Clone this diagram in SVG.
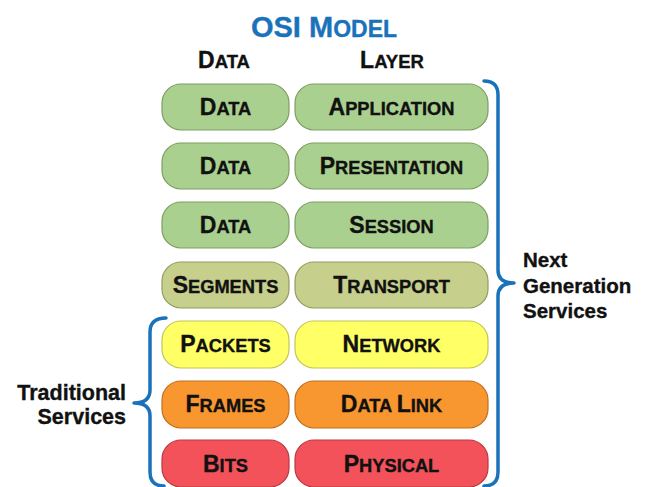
<svg xmlns="http://www.w3.org/2000/svg" width="649" height="487" viewBox="0 0 649 487">
<style>
text{font-family:"Liberation Sans",Arial,sans-serif;font-weight:bold;fill:#111;stroke:#111;stroke-width:0.35}
.box text{text-anchor:middle;font-size:18.3px}
.box .c{font-size:23px}
.g rect{fill:#a9d08e;stroke:#7e9e62}
.o rect{fill:#c6cf8b;stroke:#949c62}
.y rect{fill:#ffff66;stroke:#c4c45a}
.f rect{fill:#f8962f;stroke:#c07020}
.r rect{fill:#f3525a;stroke:#b83a40}
rect{stroke-width:1.2}
.brace{fill:none;stroke:#1a72bb;stroke-width:3.5;stroke-linecap:round;stroke-linejoin:round}
.lbl{font-size:20.5px}
.title{fill:#1a72bb;stroke:#1a72bb}
</style>
<rect width="649" height="487" fill="#fff"/>
<text class="title" x="324" y="37" text-anchor="middle" style="font-size:23px"><tspan style="font-size:29px">OSI M</tspan>ODEL</text>
<text x="224" y="68" text-anchor="middle" style="font-size:18.5px"><tspan style="font-size:23px">D</tspan>ATA</text>
<text x="392" y="68" text-anchor="middle" style="font-size:18.5px"><tspan style="font-size:23px">L</tspan>AYER</text>

<g id="n-data1" class="box g"><rect x="162" y="84" width="127" height="46" rx="19"/><text x="225.5" y="115"><tspan class="c">D</tspan>ATA</text></g>
<g id="n-application" class="box g"><rect x="295" y="84" width="193" height="46" rx="19"/><text x="391.5" y="115"><tspan class="c">A</tspan>PPLICATION</text></g>
<g id="n-data2" class="box g"><rect x="162" y="143" width="127" height="46" rx="19"/><text x="225.5" y="174"><tspan class="c">D</tspan>ATA</text></g>
<g id="n-presentation" class="box g"><rect x="295" y="143" width="193" height="46" rx="19"/><text x="391.5" y="174"><tspan class="c">P</tspan>RESENTATION</text></g>
<g id="n-data3" class="box g"><rect x="162" y="202" width="127" height="46" rx="19"/><text x="225.5" y="233"><tspan class="c">D</tspan>ATA</text></g>
<g id="n-session" class="box g"><rect x="295" y="202" width="193" height="46" rx="19"/><text x="391.5" y="233"><tspan class="c">S</tspan>ESSION</text></g>
<g id="n-segments" class="box o"><rect x="162" y="262" width="127" height="46" rx="19"/><text x="225.5" y="293"><tspan class="c">S</tspan>EGMENTS</text></g>
<g id="n-transport" class="box o"><rect x="295" y="262" width="193" height="46" rx="19"/><text x="391.5" y="293"><tspan class="c">T</tspan>RANSPORT</text></g>
<g id="n-packets" class="box y"><rect x="162" y="321" width="127" height="47" rx="19"/><text x="225.5" y="352"><tspan class="c">P</tspan>ACKETS</text></g>
<g id="n-network" class="box y"><rect x="295" y="321" width="193" height="47" rx="19"/><text x="391.5" y="352"><tspan class="c">N</tspan>ETWORK</text></g>
<g id="n-frames" class="box f"><rect x="162" y="381" width="127" height="47" rx="19"/><text x="225.5" y="412"><tspan class="c">F</tspan>RAMES</text></g>
<g id="n-datalink" class="box f"><rect x="295" y="381" width="193" height="47" rx="19"/><text x="391.5" y="412"><tspan class="c">D</tspan>ATA <tspan class="c">L</tspan>INK</text></g>
<g id="n-bits" class="box r"><rect x="162" y="440" width="127" height="47" rx="19"/><text x="225.5" y="472"><tspan class="c">B</tspan>ITS</text></g>
<g id="n-physical" class="box r"><rect x="295" y="440" width="193" height="47" rx="19"/><text x="391.5" y="472"><tspan class="c">P</tspan>HYSICAL</text></g>

<g id="connectors">
<path class="brace" d="M484 81 Q498 81 498 95 L498 270 Q498 283 514 283 Q498 283 498 296 L498 472 Q498 486 484 486"/>
<path class="brace" d="M166 318 Q150 318 150 332 L150 390 Q150 403 134 403 Q150 403 150 416 L150 472 Q150 486 164 486"/>
</g>
<g id="n-next">
<text class="lbl" x="523" y="267">Next</text>
<text class="lbl" x="523" y="293">Generation</text>
<text class="lbl" x="523" y="318">Services</text>
</g>
<g id="n-traditional">
<text class="lbl" x="126" y="400" text-anchor="end" style="font-size:21.5px">Traditional</text>
<text class="lbl" x="126" y="424" text-anchor="end" style="font-size:21.5px">Services</text>
</g>
</svg>
